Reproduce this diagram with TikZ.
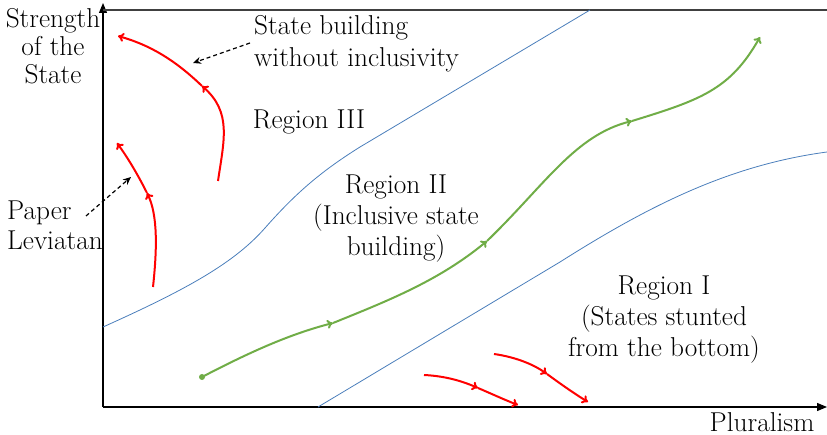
\documentclass[tikz,border=0pt]{standalone}
\usetikzlibrary{arrows.meta}
\definecolor{bluec}{RGB}{74,126,187}
\definecolor{greenc}{RGB}{112,173,71}
\begin{document}
\begin{tikzpicture}[x=1pt,y=-1pt,
  lbl/.style={font=\fontsize{27.3}{31}\selectfont, inner sep=0pt},
  bnd/.style={draw=bluec, line width=0.8pt},
  gpath/.style={draw=greenc, line width=2pt, -{To[length=6pt,width=9pt]}},
  rpath/.style={draw=red, line width=2pt, -{To[length=6pt,width=9pt]}},
  dash arrow/.style={draw=black, dashed, line width=1.2pt, dash pattern=on 4pt off 3pt, -{Stealth[length=8pt,width=7pt]}},
  axisline/.style={draw=black, line width=1.2pt, -{Triangle[length=10pt,width=8pt]}}]
\useasboundingbox (0,0) rectangle (827,435);
% axes
\coordinate (O) at (103,407);
\coordinate (ytop) at (103,3);
\coordinate (xend) at (827,407);
\coordinate (tl) at (103,10);
\coordinate (tr) at (827,10);
\draw[axisline] (O) -- (ytop);
\draw[axisline] (O) -- (xend);
\draw[draw=black!75, line width=1.5pt] (tl) -- (tr);
% boundaries
\coordinate (u1) at (103,327);
\coordinate (u2) at (265,228);
\coordinate (u3) at (360,147);
\coordinate (u4) at (590,10);
\draw[bnd] (u1) .. controls (190,288) and (235,262) .. (u2) .. controls (295,194) and (320,172) .. (u3) -- (u4);
\coordinate (l1) at (318,407);
\coordinate (l2) at (560,262);
\coordinate (l3) at (827,152);
\draw[bnd] (l1) -- (l2) .. controls (650,205) and (730,165) .. (l3);
% green path
\coordinate (g0) at (202,377);
\coordinate (g1) at (333,323);
\coordinate (g2) at (487,241);
\coordinate (g3) at (632,121);
\coordinate (g4) at (760,37);
\fill[greenc] (g0) circle (3pt);
\draw[gpath] (g0) .. controls (250,352) and (290,334) .. (g1);
\draw[gpath] (g1) .. controls (390,300) and (440,280) .. (g2);
\draw[gpath] (g2) .. controls (545,185) and (575,135) .. (g3);
\draw[gpath] (g3) .. controls (700,100) and (730,90) .. (g4);
% red paths
\coordinate (a0) at (218,181);
\coordinate (a1) at (202,86);
\coordinate (a2) at (118,36);
\draw[rpath] (a0) .. controls (224,140) and (232,112) .. (a1);
\draw[rpath] (a1) .. controls (175,60) and (150,45) .. (a2);
\coordinate (b0) at (153,287);
\coordinate (b1) at (147,193);
\coordinate (b2) at (117,143);
\draw[rpath] (b0) .. controls (157,250) and (158,215) .. (b1);
\draw[rpath] (b1) .. controls (138,175) and (128,158) .. (b2);
\coordinate (c0) at (424,375);
\coordinate (c1) at (478,388);
\coordinate (c2) at (518,405);
\draw[rpath] (c0) .. controls (445,376) and (462,381) .. (c1);
\draw[rpath] (c1) .. controls (492,394) and (505,400) .. (c2);
\coordinate (d0) at (494,354);
\coordinate (d1) at (547,374);
\coordinate (d2) at (588,402);
\draw[rpath] (d0) .. controls (515,357) and (533,364) .. (d1);
\draw[rpath] (d1) .. controls (562,385) and (575,394) .. (d2);
% labels
\node[lbl, align=center, font=\fontsize{27.3}{28}\selectfont] (ylab) at (53,46) {Strength\\of the\\State};
\node[lbl, align=left, anchor=west, font=\fontsize{27.3}{32}\selectfont] (sb) at (254,44) {State building\\without inclusivity};
\node[lbl] (r3) at (309,122) {Region III};
\node[lbl, align=center] (r2) at (396,219) {Region II\\(Inclusive state\\building)};
\node[lbl, align=center] (r1) at (664,320) {Region I\\(States stunted\\from the bottom)};
\node[lbl, align=left, anchor=west, font=\fontsize{27.3}{30}\selectfont] (pl) at (7,225) {Paper\\Leviatan};
\node[lbl, anchor=base] (xlab) at (762,431) {Pluralism};
% dashed pointers
\coordinate (sbp) at (250,43);
\coordinate (sbt) at (193,63);
\draw[dash arrow] (sbp) -- (sbt);
\coordinate (plp) at (86,216);
\coordinate (plt) at (131,177);
\draw[dash arrow] (plp) -- (plt);
\end{tikzpicture}
\end{document}
